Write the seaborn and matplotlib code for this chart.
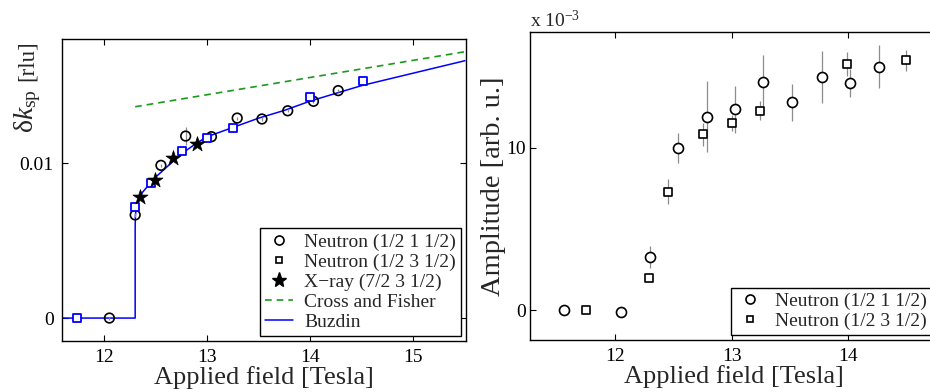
import numpy as np
import pandas as pd
import matplotlib
matplotlib.use("Agg")
import matplotlib.pyplot as plt
from matplotlib.lines import Line2D
import seaborn as sns

# ---- data: spin-density-wave incommensurability delta k_sp ----
circ_field = [12.05, 12.30, 12.55, 12.79, 13.04, 13.29, 13.53, 13.78, 14.03, 14.27]
circ_dk = [0.0000, 0.00665, 0.00985, 0.01174, 0.01170, 0.01290, 0.01284, 0.01337, 0.01398, 0.01467]
circ_dk_err = [0.0001, 0.0001, 0.0001, 0.0006, 0.0001, 0.0001, 0.0001, 0.0001, 0.0001, 0.0001]

sq_field = [11.74, 12.30, 12.45, 12.75, 13.00, 13.25, 14.00, 14.51]
sq_dk = [0.0000, 0.00714, 0.00873, 0.01080, 0.01160, 0.01228, 0.01424, 0.01529]

xray_field = [12.35, 12.49, 12.67, 12.90]
xray_dk = [0.00783, 0.00890, 0.01030, 0.01123]

cf_field = [12.30, 13.90, 15.50]
cf_dk = [0.01363, 0.01541, 0.01718]

buz_field = [11.60, 12.30, 12.300, 12.302, 12.31, 12.33, 12.37, 12.42, 12.50, 12.60,
             12.75, 12.90, 13.00, 13.25, 13.50, 13.75, 14.00, 14.25, 14.50, 15.00, 15.50]
buz_dk = [0.0, 0.0, 0.0058, 0.0066, 0.0071, 0.0076, 0.0081, 0.0085, 0.0091, 0.0097,
          0.0106, 0.0113, 0.0117, 0.0123, 0.0129, 0.0134, 0.0140, 0.0145, 0.0150, 0.0158, 0.0166]

# ---- data: amplitude (units of 1e-3) ----
amp_c_field = [11.56, 12.05, 12.30, 12.54, 12.79, 13.03, 13.27, 13.52, 13.77, 14.01, 14.26]
amp_c = [0.03, -0.08, 3.28, 9.98, 11.90, 12.34, 14.04, 12.77, 14.32, 13.97, 14.96]
amp_c_err = [0.0, 0.0, 0.69, 0.90, 2.20, 1.45, 1.64, 1.13, 1.60, 0.84, 1.33]

amp_s_field = [11.75, 12.29, 12.45, 12.75, 13.00, 13.24, 13.99, 14.49]
amp_s = [0.04, 1.99, 7.30, 10.82, 11.50, 12.27, 15.12, 15.35]
amp_s_err = [0.0, 0.0, 0.74, 0.72, 0.50, 0.60, 0.74, 0.67]

x_ticks_left = [12, 13, 14, 15]
y_ticks_left = [0, 0.01]
y_ticklabels_left = ["0", "0.01"]
x_ticks_right = [12, 13, 14]
y_ticks_right = [0, 10]

labels = ["Neutron (1/2 1 1/2)", "Neutron (1/2 3 1/2)", "X\u2212ray (7/2 3 1/2)",
          "Cross and Fisher", "Buzdin"]

sns.set_style("ticks")
serif = ["Liberation Serif", "DejaVu Serif"]
plt.rcParams["font.family"] = serif
plt.rcParams["mathtext.fontset"] = "custom"
plt.rcParams["mathtext.rm"] = "Liberation Serif"
plt.rcParams["mathtext.it"] = "Liberation Serif:italic"
plt.rcParams["xtick.direction"] = "in"
plt.rcParams["ytick.direction"] = "in"
plt.rcParams["xtick.top"] = True
plt.rcParams["ytick.right"] = True

W, H = 930, 392
fig = plt.figure(figsize=(W / 100, H / 100), dpi=100)


def px_axes(x0, y0, x1, y1):
    return fig.add_axes([x0 / W, 1 - y1 / H, (x1 - x0) / W, (y1 - y0) / H])


ax1 = px_axes(62, 39, 466, 341)
ax2 = px_axes(530, 32, 937, 340)

tick_fs = 14
leg_fs = 14
xlabel_fs = 19
err_col = "#8c8c8c"
blue = "#0000ff"
green = "#1a9a1a"

# ---------------- left panel ----------------
sns.lineplot(x=cf_field, y=cf_dk, ax=ax1, color=green, lw=1.2, linestyle=(0, (4, 3)),
             sort=False, estimator=None)
sns.lineplot(x=buz_field, y=buz_dk, ax=ax1, color=blue, lw=1.1, sort=False, estimator=None)
ax1.errorbar(circ_field, circ_dk, yerr=circ_dk_err, fmt="none", ecolor=err_col, elinewidth=0.9,
             capsize=0, zorder=2)
sns.scatterplot(x=circ_field, y=circ_dk, ax=ax1, marker="o", s=48, facecolor="none",
                edgecolor="black", linewidth=1.2, zorder=3)
sns.scatterplot(x=sq_field, y=sq_dk, ax=ax1, marker="s", s=30, facecolor="white",
                edgecolor=blue, linewidth=1.3, zorder=4)
sns.scatterplot(x=xray_field, y=xray_dk, ax=ax1, marker="*", s=130, color="black",
                edgecolor="black", linewidth=0.5, zorder=5)

ax1.set_xlim(11.59, 15.51)
ax1.set_ylim(-0.00148, 0.0180)
ax1.set_xticks(x_ticks_left)
ax1.set_yticks(y_ticks_left)
ax1.set_yticklabels(y_ticklabels_left)
ax1.set_xlabel("Applied field [Tesla]", fontsize=xlabel_fs, labelpad=0)
ax1.set_ylabel("")
# y label in two pieces: the symbol is set larger than the unit
fig.text(33 / W, 1 - 133 / H, "\u03b4$\\mathit{k}_{\\mathrm{sp}}$", fontsize=20,
         rotation=90, rotation_mode="anchor", ha="left", va="baseline")
fig.text(33 / W, 1 - 40 / H, "[rlu]", fontsize=16.5, rotation=90,
         rotation_mode="anchor", ha="right", va="baseline")

h_left = [
    Line2D([], [], ls="none", marker="o", ms=6.5, mfc="none", mec="black", mew=1.2),
    Line2D([], [], ls="none", marker="s", ms=5, mfc="none", mec="black", mew=1.2),
    Line2D([], [], ls="none", marker="*", ms=11, color="black"),
    Line2D([], [], color=green, lw=1.2, ls=(0, (4, 3))),
    Line2D([], [], color=blue, lw=1.1),
]
legend_kw = dict(loc="lower right", fontsize=leg_fs, frameon=True, fancybox=False,
                 edgecolor="black", framealpha=1, handlelength=1.45, handletextpad=0.6,
                 labelspacing=0.13, borderpad=0.25, borderaxespad=0.25)
leg1 = ax1.legend(h_left, labels, **legend_kw)
leg1.get_frame().set_linewidth(1.0)

# ---------------- right panel ----------------
ax2.errorbar(amp_c_field, amp_c, yerr=amp_c_err, fmt="none", ecolor=err_col, elinewidth=0.9,
             capsize=0, zorder=2)
ax2.errorbar(amp_s_field, amp_s, yerr=amp_s_err, fmt="none", ecolor=err_col, elinewidth=0.9,
             capsize=0, zorder=2)
sns.scatterplot(x=amp_c_field, y=amp_c, ax=ax2, marker="o", s=52, facecolor="white",
                edgecolor="black", linewidth=1.2, zorder=3)
sns.scatterplot(x=amp_s_field, y=amp_s, ax=ax2, marker="s", s=32, facecolor="white",
                edgecolor="black", linewidth=1.2, zorder=3)

ax2.set_xlim(11.27, 14.76)
ax2.set_ylim(-1.82, 17.1)
ax2.set_xticks(x_ticks_right)
ax2.set_yticks(y_ticks_right)
ax2.set_xlabel("Applied field [Tesla]", fontsize=xlabel_fs, labelpad=0)
ax2.set_ylabel("Amplitude [arb. u.]", fontsize=20.5)
ax2.yaxis.set_label_coords(-0.058, 0.5)
ax2.text(0.0, 1.016, "x 10$^{-3}$", transform=ax2.transAxes, fontsize=tick_fs,
         ha="left", va="baseline")

leg2 = ax2.legend(h_left[:2], labels[:2], **legend_kw)
leg2.get_frame().set_linewidth(1.0)

for ax in (ax1, ax2):
    for sp in ax.spines.values():
        sp.set_linewidth(1.0)
        sp.set_color("black")
    ax.tick_params(labelsize=tick_fs, length=4, width=0.8, colors="black", pad=6)
    ax.set_facecolor("white")
ax2.tick_params(axis="y", pad=3)

fig.savefig("out.png", dpi=100, facecolor="white")
